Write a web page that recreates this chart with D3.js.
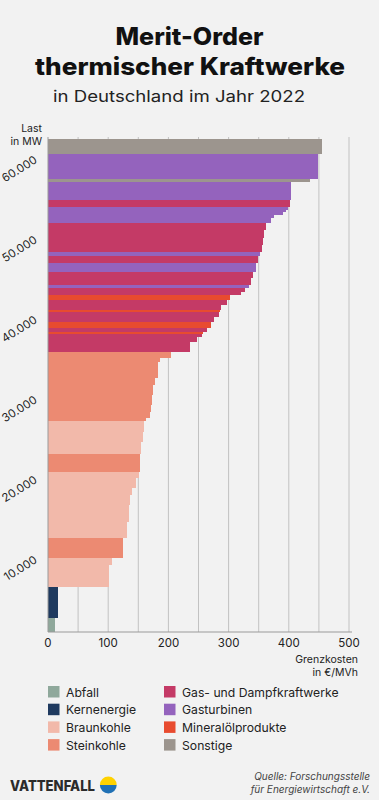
<!DOCTYPE html>
<html><head><meta charset="utf-8">
<script src="https://cdn.jsdelivr.net/npm/d3@7"></script>
<style>
html,body{margin:0;padding:0;background:#f2f2f2;}
svg{display:block;font-family:Inter, "Open Sans", sans-serif;}
</style></head>
<body>
<svg id="c" width="379" height="800"></svg>
<script>
const categories = ["Abfall","Kernenergie","Braunkohle","Steinkohle","Gas- und Dampfkraftwerke","Gasturbinen","Mineralölprodukte","Sonstige"];
const categoryColors = ["#8fa89b","#1f3a5f","#f2b9aa","#ec8a72","#c43a66","#9463bd","#e84b2f","#9c958e"];
// blocks in merit order (bottom to top)
const blockType = [0,1,2,2,3,2,2,2,2,2,2,3,2,2,2,3,3,3,3,3,3,3,3,3,4,4,4,6,4,6,4,4,6,4,4,6,4,4,5,4,4,5,4,5,4,4,4,4,5,5,5,5,5,4,5,7,5,7];
const blockCapacity = [1700,3900,2800,900,2500,2000,2100,1200,900,1200,800,2300,1450,1250,1350,400,750,850,1250,1250,850,2100,400,800,1300,600,300,250,500,800,650,650,150,650,650,625,400,450,400,850,750,1100,950,500,850,850,1025,850,600,400,400,300,350,850,2300,325,3075,1925];
const blockCost = [12,17,102,107,125,131,134,136,140,147,151,152,155,157,160,163,169,171,173,175,178,182,186,205,236,247,255,258,264,270,275,284,286,288,297,302,320,328,334,338,341,346,349,352,355,357,359,362,371,375,391,395,399,402,403,436,449,455];
const yTicks = [10000,20000,30000,40000,50000,60000];
const xTicks = [0,100,200,300,400,500];
const xGrid = [50,100,150,200,250,300,350,400,450,500];

const svg = d3.select("#c");
const x = d3.scaleLinear().domain([0,500]).range([48,349]);
const y = d3.scaleLinear().domain([0,60000]).range([632,152]);
const loc = d3.formatLocale({decimal:",",thousands:".",grouping:[3],currency:["","€"]});
const fmt = loc.format(",");

// title
svg.append("text").attr("x",189.5).attr("y",45).attr("text-anchor","middle")
  .attr("font-size",24).attr("font-weight",800).attr("fill","#111")
  .attr("textLength",148).attr("lengthAdjust","spacingAndGlyphs").text("Merit-Order");
svg.append("text").attr("x",190).attr("y",75).attr("text-anchor","middle")
  .attr("font-size",24).attr("font-weight",800).attr("fill","#111")
  .attr("textLength",310).attr("lengthAdjust","spacingAndGlyphs").text("thermischer Kraftwerke");
svg.append("text").attr("x",179).attr("y",101.5).attr("text-anchor","middle")
  .attr("font-size",16).attr("fill","#222")
  .attr("textLength",252).attr("lengthAdjust","spacingAndGlyphs").text("in Deutschland im Jahr 2022");

// axis titles
svg.append("text").attr("x",42).attr("y",132).attr("text-anchor","end").attr("font-size",10.5).attr("fill","#222").text("Last");
svg.append("text").attr("x",42).attr("y",144.5).attr("text-anchor","end").attr("font-size",10.5).attr("fill","#222").text("in MW");

// gridlines
svg.append("g").selectAll("line").data(xGrid).join("line")
  .attr("x1",d=>x(d)).attr("x2",d=>x(d)).attr("y1",137).attr("y2",632)
  .attr("stroke","#c2c2c2").attr("stroke-width",1);

// bars
const cum = d3.cumsum(blockCapacity);
const blocks = blockCapacity.map((c,i)=>({t:blockType[i], lo:cum[i]-c, hi:cum[i], cost:blockCost[i]}));
svg.append("g").attr("shape-rendering","crispEdges").selectAll("rect").data(blocks).join("rect")
  .attr("x",x(0)).attr("y",d=>y(d.hi)).attr("width",d=>x(d.cost)-x(0))
  .attr("height",d=>y(d.lo)-y(d.hi)).attr("fill",d=>categoryColors[d.t]);

// axis lines
svg.append("line").attr("x1",x(0)).attr("x2",x(0)).attr("y1",137).attr("y2",632).attr("stroke","#9a9a9a");
svg.append("line").attr("x1",x(0)).attr("x2",352).attr("y1",632).attr("y2",632).attr("stroke","#9a9a9a");

// y tick labels
svg.append("g").selectAll("text").data(yTicks).join("text")
  .attr("transform",d=>`translate(38,${y(d)+10}) rotate(-32)`)
  .attr("text-anchor","end").attr("font-size",11.5).attr("fill","#222").text(d=>fmt(d));
// x tick labels
svg.append("g").selectAll("text").data(xTicks).join("text")
  .attr("x",d=>x(d)).attr("y",647).attr("text-anchor","middle")
  .attr("font-size",11.5).attr("fill","#222").text(d=>d);
svg.append("text").attr("x",358).attr("y",663).attr("text-anchor","end").attr("font-size",10.5).attr("fill","#222").text("Grenzkosten");
svg.append("text").attr("x",358).attr("y",676).attr("text-anchor","end").attr("font-size",10.5).attr("fill","#222").text("in €/MVh");

// legend
const lg = svg.append("g").selectAll("g").data(categories).join("g")
  .attr("transform",(d,i)=>`translate(${i<4?48:164},${686+ (i%4)*17.7})`);
lg.append("rect").attr("width",11.5).attr("height",11.5).attr("fill",(d,i)=>categoryColors[i]);
lg.append("text").attr("x",18).attr("y",10.5).attr("font-size",12.2).attr("fill","#222").text(d=>d);

// footer
svg.append("text").attr("x",10).attr("y",790.5).attr("font-size",14).attr("font-weight",800)
  .attr("fill","#2b2b2b").attr("textLength",85).attr("lengthAdjust","spacingAndGlyphs").text("VATTENFALL");
const cx=108.3, cy=785, r=8.4;
svg.append("path").attr("d",`M${cx-r},${cy} A${r},${r} 0 0 1 ${cx+r},${cy} Z`).attr("fill","#ffd200");
svg.append("path").attr("d",`M${cx-r},${cy} A${r},${r} 0 0 0 ${cx+r},${cy} Z`).attr("fill","#2071b5");
svg.append("text").attr("x",370).attr("y",780).attr("text-anchor","end").attr("font-size",10)
  .attr("font-style","italic").attr("fill","#444").text("Quelle: Forschungsstelle");
svg.append("text").attr("x",370).attr("y",792.5).attr("text-anchor","end").attr("font-size",10)
  .attr("font-style","italic").attr("fill","#444").text("für Energiewirtschaft e.V.");
</script>
</body></html>
